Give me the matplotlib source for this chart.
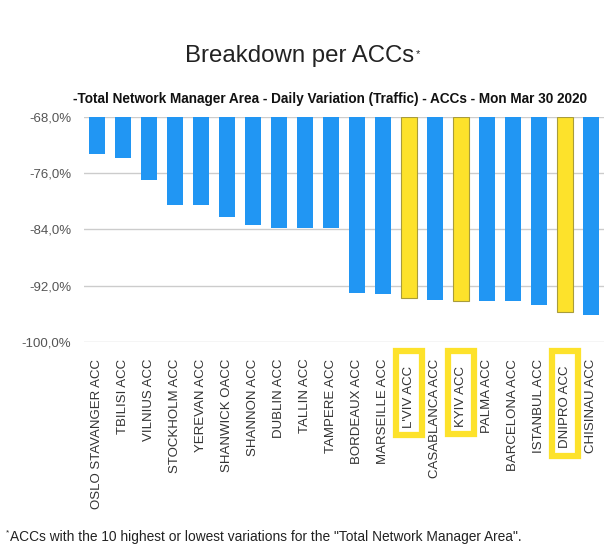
import matplotlib.pyplot as plt

plt.rcParams["font.family"] = ["Liberation Sans", "DejaVu Sans"]

BLUE = "#2196f3"
YELLOW = "#fde22b"

accs = ["OSLO STAVANGER ACC", "TBILISI ACC", "VILNIUS ACC", "STOCKHOLM ACC",
        "YEREVAN ACC", "SHANWICK OACC", "SHANNON ACC", "DUBLIN ACC",
        "TALLIN ACC", "TAMPERE ACC", "BORDEAUX ACC", "MARSEILLE ACC",
        "L'VIV ACC", "CASABLANCA ACC", "KYIV ACC", "PALMA ACC",
        "BARCELONA ACC", "ISTANBUL ACC", "DNIPRO ACC", "CHISINAU ACC"]
variation = [-73.3, -73.8, -76.9, -80.5, -80.5, -82.2, -83.4, -83.8, -83.8, -83.8,
             -93.0, -93.2, -93.7, -94.0, -94.1, -94.1, -94.2, -94.7, -95.8, -96.1]
highlight = ["L'VIV ACC", "KYIV ACC", "DNIPRO ACC"]
yticks = [-100, -92, -84, -76, -68]

base = -68

fig = plt.figure(figsize=(6.06, 5.59), dpi=100)
ax = fig.add_axes([0.1386, 0.3882, 0.858, 0.4025])

x = list(range(len(accs)))
for i, (name, v) in enumerate(zip(accs, variation)):
    if name in highlight:
        ax.bar(i, v - base, bottom=base, width=0.62, color=YELLOW,
               edgecolor="#a89c3c", linewidth=0.8, zorder=3)
    else:
        ax.bar(i, v - base, bottom=base, width=0.62, color=BLUE, zorder=3)

ax.set_ylim(-100, -68)
ax.set_xlim(-0.5, len(accs) - 0.5)
ax.set_yticks(yticks)
ax.set_yticklabels([f"{t},0%" for t in yticks])
ax.set_xticks(x)
# highlighted labels get a yellow frame, a bit longer at the bottom end
labels = [n + "  " if n in highlight else n for n in accs]
ax.set_xticklabels(labels, rotation=90, va="top", ha="center")

for lbl in ax.get_xticklabels():
    if lbl.get_text().strip() in highlight:
        lbl.set_bbox(dict(boxstyle="square,pad=0.55", fc="white",
                          ec=YELLOW, lw=4.5))

ax.tick_params(axis="x", length=0, pad=12, labelsize=9.5, labelcolor="#333333")
ax.tick_params(axis="y", length=0, pad=9, labelsize=9.5, labelcolor="#555555")
ax.grid(axis="y", color="#cccccc", linewidth=1, zorder=0)
for s in ax.spines.values():
    s.set_visible(False)

title = fig.text(0.495, 0.9, "Breakdown per ACCs", ha="center", va="center",
                 fontsize=17.3, color="#222222")
ax.annotate("*", xy=(1, 1), xycoords=title, xytext=(1, -3),
            textcoords="offset points", ha="left", va="top", fontsize=8, color="#222222")

fig.text(0.12, 0.823, "-Total Network Manager Area - Daily Variation (Traffic) - ACCs - Mon Mar 30 2020",
         ha="left", va="center", fontsize=9.8, fontweight="bold", color="#111111")

fig.text(0.017, 0.04, "ACCs with the 10 highest or lowest variations for the \"Total Network Manager Area\".",
         ha="left", va="center", fontsize=9.9, color="#222222")
fig.text(0.009, 0.047, "*", ha="left", va="center", fontsize=6, color="#222222")

fig.savefig("out.png", dpi=100, facecolor="white")
